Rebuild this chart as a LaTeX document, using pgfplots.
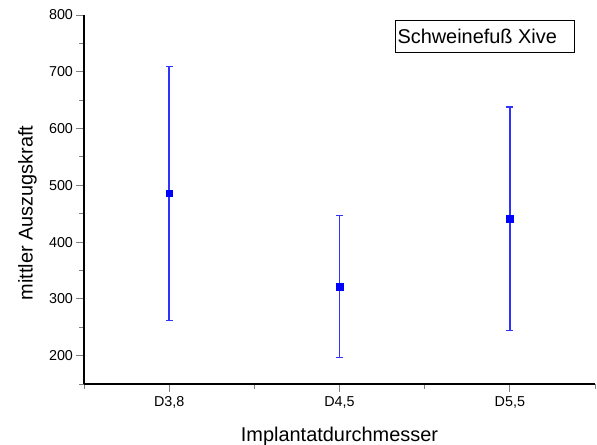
\documentclass[border=0pt]{standalone}
\usepackage{pgfplots}
\pgfplotsset{compat=1.18}
\usepackage{fontspec}
\setmainfont{Liberation Sans}
\definecolor{myblue}{RGB}{0,0,255}
\definecolor{barblue}{RGB}{50,50,255}
\begin{document}
\begin{tikzpicture}
\useasboundingbox (0,0) rectangle (597bp,445bp);
\begin{axis}[
  at={(84bp,61bp)}, anchor=south west,
  scale only axis, width=511bp, height=369bp,
  xmin=0.5, xmax=3.5, ymin=150, ymax=800,
  axis x line*=bottom, axis y line*=left,
  axis line style={line width=1.1bp, black},
  xtick={1,2,3}, xticklabels={{D3,8},{D4,5},{D5,5}},
  minor xtick={0.5,1.5,2.5,3.5},
  ytick={200,300,...,800}, minor ytick={150,250,...,750},
  tick align=outside, major tick length=7.5bp, minor tick length=4.5bp,
  tick style={line width=1bp},
  tick label style={font=\fontsize{14.4}{17}\selectfont},
  xticklabel style={yshift=-1.5bp},
  /pgf/number format/assume math mode=true,
  xlabel={Implantatdurchmesser}, ylabel={mittler Auszugskraft},
  label style={font=\fontsize{20}{24}\selectfont},
  xlabel style={at={(rel axis cs:0.5,-0.1545)}, anchor=base},
  ylabel style={at={(rel axis cs:-0.1004,0.4634)}, anchor=base},
  clip=false,
]
\addplot[barblue, only marks, mark=square*, mark size=3.4bp,
  mark options={myblue, fill=myblue, line width=0.5bp},
  error bars/.cd, y dir=both, y explicit,
  error bar style={draw=barblue, color=barblue, line width=1.4bp},
  error mark options={barblue, rotate=90, mark size=3.5bp, line width=1.1bp}]
  table[x=x, y=y, y error plus=ep, y error minus=em] {
  x y ep em
  1 486 224 224
  2 322 125 125
  3 441 197 197
  };
\end{axis}
\draw[line width=0.8bp] (395bp,392.7bp) rectangle (574bp,424.3bp);
\node[anchor=base west, inner sep=0, font=\fontsize{20}{24}\selectfont] at (397.3bp,401bp) {Schweinefuß Xive};
\end{tikzpicture}
\end{document}
